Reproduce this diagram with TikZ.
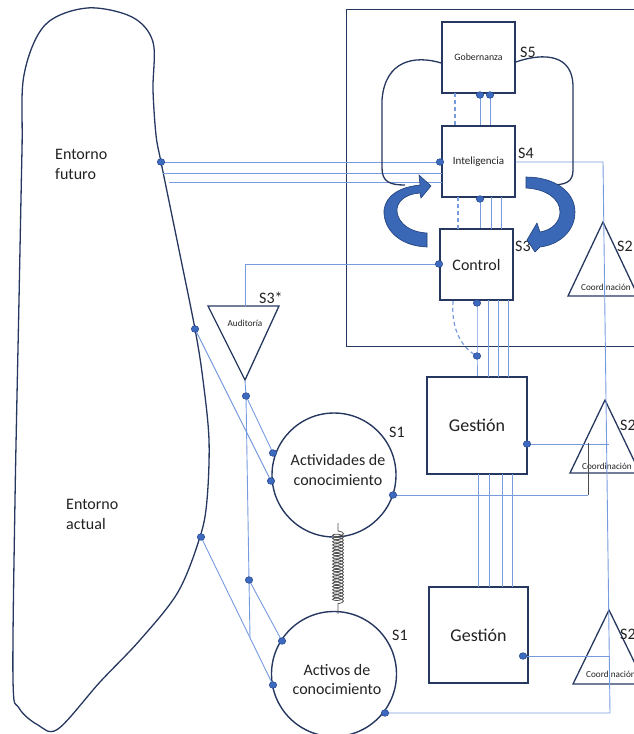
\documentclass[tikz,border=0pt]{standalone}
\usepackage{fontspec}
\setmainfont{Carlito}
\usetikzlibrary{decorations.pathmorphing}
\definecolor{navy}{RGB}{38,56,96}
\definecolor{lblue}{RGB}{118,155,222}
\definecolor{dotfill}{RGB}{61,106,190}
\definecolor{dotedge}{RGB}{35,70,140}
\definecolor{arrfill}{RGB}{58,104,182}
\definecolor{arredge}{RGB}{30,62,120}
\definecolor{springc}{RGB}{80,80,80}
\definecolor{txt}{RGB}{34,34,34}
\begin{document}
\begin{tikzpicture}[x=1pt,y=-1pt,
  box/.style={draw=navy,line width=1.4pt,fill=white,inner sep=0pt,text=txt},
  link/.style={draw=lblue,line width=0.9pt},
  dlink/.style={draw=lblue,line width=1.2pt,dash pattern=on 4pt off 3pt},
  outline/.style={draw=navy,line width=1.3pt},
  dotmark/.style={fill=dotfill,draw=dotedge,line width=0.5pt},
  lbl/.style={font=\fontsize{16}{18}\selectfont,text=txt,inner sep=0pt,anchor=west},
  small/.style={font=\fontsize{9.2}{10}\selectfont,text=txt,inner sep=0pt},
  bigtxt/.style={font=\fontsize{16}{19.5}\selectfont,text=txt,inner sep=0pt,align=center},
  curvarrow/.style={fill=arrfill,draw=arredge,line width=0.6pt}]
\useasboundingbox (0,0) rectangle (634,734);
\clip (0,0) rectangle (634,734);

% Environment blob
\draw[outline] plot[smooth cycle, tension=0.55] coordinates {(87,8) (132,17) (153,42) (153,90) (156,135) (161,162) (178,245) (195,329) (203,380) (209,440) (207,500) (200,537) (178,592) (140,640) (100,682) (58,729) (38,725) (19,708) (13,680) (15,500) (19,300) (22,150) (24,75) (45,25)};
\node[font=\fontsize{16}{20}\selectfont,text=txt,align=left,anchor=west,inner sep=0pt] (efut) at (55,164) {Entorno\\futuro};
\node[font=\fontsize{16}{20}\selectfont,text=txt,align=left,anchor=west,inner sep=0pt] (eact) at (66,514.5) {Entorno\\actual};

% Metasystem frame
\node[draw=navy,line width=1.4pt,minimum width=320pt,minimum height=337pt,anchor=north west,inner sep=0pt] (meta) at (346,9) {};

% Boxes
\node[box,minimum width=73pt,minimum height=71pt,font=\fontsize{9.8}{11}\selectfont] (gob) at (478.5,57.5) {Gobernanza};
\node[box,minimum width=73pt,minimum height=71pt,font=\fontsize{11}{12}\selectfont] (inte) at (478.5,161.5) {Inteligencia};
\node[box,minimum width=73pt,minimum height=71pt,font=\fontsize{16}{18}\selectfont] (ctrl) at (476.5,264.5) {Control};
\node[box,minimum width=100pt,minimum height=97pt,font=\fontsize{18}{20}\selectfont] (ges1) at (477,425.5) {Gestión};
\node[box,minimum width=99pt,minimum height=96pt,font=\fontsize{18}{20}\selectfont] (ges2) at (478.5,635) {Gestión};

% Circles
\node[draw=navy,line width=1.4pt,circle,minimum size=124pt,inner sep=0pt] (activ) at (334,475) {};
\node[bigtxt] (activt) at (338,470) {Actividades de\\conocimiento};
\node[draw=navy,line width=1.4pt,circle,minimum size=125pt,inner sep=0pt] (activo) at (334,674) {};
\node[bigtxt] (activot) at (337,679.5) {Activos de\\conocimiento};

% Triangles
\coordinate (t1a) at (603,222); \coordinate (t1l) at (568,296); \coordinate (t1r) at (638,296);
\coordinate (t2a) at (605,400); \coordinate (t2l) at (570,473); \coordinate (t2r) at (640,473);
\coordinate (t3a) at (609,610); \coordinate (t3l) at (573,684); \coordinate (t3r) at (645,684);
\draw[outline,line join=miter] (t1a) -- (t1l) -- (t1r) -- cycle;
\draw[outline,line join=miter] (t2a) -- (t2l) -- (t2r) -- cycle;
\draw[outline,line join=miter] (t3a) -- (t3l) -- (t3r) -- cycle;
\node[small] (co1) at (606,287) {Coordinación};
\node[small] (co2) at (607,466) {Coordinación};
\node[small] (co3) at (611,674) {Coordinación};
\coordinate (aul) at (208,306); \coordinate (aur) at (279,306); \coordinate (aua) at (245,380);
\draw[outline,line join=miter] (aul) -- (aur) -- (aua) -- cycle;
\node[small] (audt) at (245,323) {Auditoría};

% Labels
\node[lbl] (s5) at (520,52) {S5};
\node[lbl] (s4) at (518,153) {S4};
\node[lbl] (s3) at (515,246) {S3};
\node[lbl] (s2a) at (617,246) {S2};
\node[lbl] (s2b) at (620,425) {S2};
\node[lbl] (s2c) at (620,634) {S2};
\node[lbl] (s3s) at (259,298) {S3*};
\node[lbl] (s1a) at (389,432) {S1};
\node[lbl] (s1b) at (392,635) {S1};

% Dot coordinates
\coordinate (eF) at (161,162);
\coordinate (eM) at (195,329);
\coordinate (eA) at (201,537);
\coordinate (iL) at (440,162);
\coordinate (gB1) at (480,95);
\coordinate (gB2) at (490,95);
\coordinate (iB) at (480,199);
\coordinate (cL) at (439,264);
\coordinate (cB) at (477,303);
\coordinate (mD) at (477,356);
\coordinate (g1R) at (527,444);
\coordinate (g2R) at (523,656);
\coordinate (aud) at (246,396);
\coordinate (vm) at (249,580);
\coordinate (ac1) at (273,453);
\coordinate (ac2) at (271,481);
\coordinate (acR) at (393,495);
\coordinate (as1) at (282,641);
\coordinate (as2) at (273,685);
\coordinate (asR) at (385,713);
\coordinate (vtop) at (603,162);
\coordinate (vbot) at (610,713);
\coordinate (cor) at (245,264);
\coordinate (vend) at (250,637);

% Links environment -> S4
\draw[link] (eF) -- (iL);
\draw[link] (163,173) -- (442,173);
\draw[link] (169,182) -- (442,182);
% S4 -> S2 channel
\draw[link] (inte.east |- vtop) -- (vtop) -- (vbot) -- (asR);
\draw[link] (g1R) -- (609,444);
\draw[link] (g2R) -- (610,656);
\draw[link] (acR) -- (588,495);
\draw[draw=black!70,line width=0.8pt] (588,495) -- (588,443);

% vertical channels
\draw[link] (gB1) -- (gB1 |- inte.north);
\draw[link] (gB2) -- (gB2 |- inte.north);
\draw[dlink] (455,93) -- (455,126);
\draw[link] (iB) -- (iB |- ctrl.north);
\draw[link] (491,197) -- (491,229);
\draw[link] (501,197) -- (501,229);
\draw[dlink] (458,197) -- (458,229);
\draw[link] (cB) -- (mD) -- (mD |- ges1.north);
\draw[link] (488,300) -- (488,377);
\draw[link] (498,300) -- (498,377);
\draw[link] (508,300) -- (508,377);
\draw[dlink] (453,301) .. controls (451,330) and (462,348) .. (mD);
\draw[link] (478,474) -- (478,587);
\draw[link] (489,474) -- (489,587);
\draw[link] (502,474) -- (502,587);
\draw[link] (512,474) -- (512,587);

% Control -> Auditoria
\draw[link] (cL) -- (cor) -- (245,306);
% Auditoria and environment -> operations
\draw[link] (aua) -- (aud) -- (vm) -- (vend);
\draw[link] (aud) -- (ac1);
\draw[link] (eM) -- (ac2);
\draw[link] (vm) -- (as1);
\draw[link] (eA) -- (as2);

% Spring
\draw[springc,line width=0.8pt,decorate,decoration={coil,amplitude=5.5pt,segment length=3.2pt,aspect=0.35,pre length=8pt,post length=8pt}] (338,523) -- (338,614);

% Loops S5
\draw[outline] (gob.west |- 0,63) .. controls (415,55) and (385,60) .. (382,100) -- (382,168) .. controls (382,182) and (390,185) .. (405,185);
\draw[outline] (gob.east |- 0,62) .. controls (545,52) and (572,55) .. (573,85) -- (573,170) .. controls (573,182) and (566,185) .. (550,185);

% Curved arrows
\draw[curvarrow] (427,247) .. controls (398,246) and (383,228) .. (384,210) .. controls (386,195) and (400,187) .. (420,185) -- (419,175) -- (431,186) -- (421,198) -- (420,193) .. controls (405,194) and (396,202) .. (397,212) .. controls (399,224) and (410,232) .. (427,233) -- cycle;
\draw[curvarrow] (526,177) .. controls (555,177) and (575,192) .. (575,212) .. controls (575,232) and (558,245) .. (540,247) -- (535,252) -- (527,240) -- (537,223) -- (540,232) .. controls (552,230) and (560,222) .. (560,212) .. controls (560,198) and (545,189) .. (526,188) -- cycle;

% Dots
\foreach \p in {eF,eM,eA,iL,gB1,gB2,iB,cL,cB,mD,g1R,g2R,aud,vm,ac1,ac2,acR,as1,as2,asR}
  \draw[dotmark] (\p) ellipse (3.8pt and 3.3pt);
\end{tikzpicture}
\end{document}
